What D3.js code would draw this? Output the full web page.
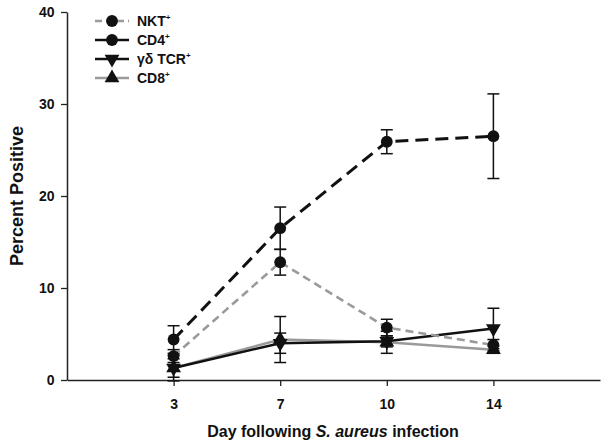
<!DOCTYPE html>
<html>
<head>
<meta charset="utf-8">
<script src="https://cdn.jsdelivr.net/npm/d3@7"></script>
<style>
  body { margin: 0; background: #fff; }
  text { font-family: "Liberation Sans", Arial, sans-serif; font-weight: bold; }
</style>
</head>
<body>
<div id="chart"><svg width="601" height="448"></svg></div>
<script>
// days on the x axis (categorical, evenly spaced)
const days = ["3", "7", "10", "14"];
const yTicks = [0, 10, 20, 30, 40];

// black long dashed, circles
const dashBlackVals = [4.4, 16.5, 25.9, 26.5];
const dashBlackErr = [1.5, 2.3, 1.3, 4.6];
// grey dashed, circles
const dashGreyVals = [2.6, 12.8, 5.7, 3.8];
const dashGreyErr = [0.7, 1.4, 0.9, 0.6];
// black solid, down triangles
const solidBlackVals = [1.3, 4.0, 4.2, 5.6];
const solidBlackErr = [1.0, 1.1, 0.6, 2.2];
// grey solid, up triangles
const solidGreyVals = [1.3, 4.4, 4.1, 3.3];
const solidGreyErr = [1.4, 2.5, 1.2, 0.4];

const legendLabels = ["NKT", "CD4", "γδ TCR", "CD8"];

const svg = d3.select("#chart svg");
const margin = { left: 67, right: 1, top: 12, bottom: 68 };
const W = 601, H = 448;

// index scale: one empty slot before and after the days
const x = d3.scaleLinear().domain([0, days.length + 1]).range([margin.left, W - margin.right]);
const y = d3.scaleLinear().domain([0, 40]).range([H - margin.bottom, margin.top]);

const grey = "#9a9a9a";

// axes
const gx = svg.append("g")
  .attr("transform", "translate(0," + y(0) + ")")
  .call(d3.axisBottom(x)
    .tickValues(days.map((d, i) => i + 1))
    .tickFormat((d) => days[d - 1])
    .tickSize(6)
    .tickSizeOuter(0));
gx.select(".domain").attr("stroke", "#222").attr("stroke-width", 1.5);
gx.selectAll(".tick line").attr("stroke", "#222").attr("stroke-width", 1.3);
gx.selectAll(".tick text").attr("font-size", 14).attr("fill", "#111").attr("dy", "1.45em");

const gy = svg.append("g")
  .attr("transform", "translate(" + margin.left + ",0)")
  .call(d3.axisLeft(y).tickValues(yTicks).tickSize(6).tickSizeOuter(0));
gy.select(".domain").attr("stroke", "#222").attr("stroke-width", 1.5);
gy.selectAll(".tick line").attr("stroke", "#222").attr("stroke-width", 1.3);
gy.selectAll(".tick text").attr("font-size", 14).attr("fill", "#111").attr("dx", "-0.25em");

// axis titles
svg.append("text")
  .attr("transform", "translate(23," + (y(20)) + ") rotate(-90)")
  .attr("text-anchor", "middle")
  .attr("font-size", 18)
  .attr("fill", "#111")
  .text("Percent Positive");

const xt = svg.append("text")
  .attr("x", 333).attr("y", 437)
  .attr("text-anchor", "middle")
  .attr("font-size", 16)
  .attr("fill", "#111");
xt.append("tspan").text("Day following ");
xt.append("tspan").attr("font-style", "italic").text("S. aureus");
xt.append("tspan").text(" infection");

const series = [
  { vals: solidGreyVals, err: solidGreyErr, color: grey, dash: null, width: 2.5, marker: "up" },
  { vals: solidBlackVals, err: solidBlackErr, color: "#111", dash: null, width: 2.5, marker: "down" },
  { vals: dashGreyVals, err: dashGreyErr, color: grey, dash: "8,5", width: 2.6, marker: "circle" },
  { vals: dashBlackVals, err: dashBlackErr, color: "#111", dash: "13,7", width: 3, marker: "circle" }
];

const line = d3.line().x((d, i) => x(i + 1)).y((d) => y(d));

const symbolFor = (m) => {
  if (m === "circle") return d3.symbol().type(d3.symbolCircle).size(110)();
  // down triangle uses the same path, rotated where it is placed
  return d3.symbol().type(d3.symbolTriangle).size(95)();
};

// error bars
series.forEach((s) => {
  const g = svg.append("g");
  s.vals.forEach((v, i) => {
    const cx = x(i + 1);
    const top = y(v + s.err[i]), bot = y(v - s.err[i]);
    g.append("line").attr("x1", cx).attr("x2", cx).attr("y1", top).attr("y2", bot)
      .attr("stroke", "#111").attr("stroke-width", 1.5);
    [top, bot].forEach((yy) => {
      g.append("line").attr("x1", cx - 6).attr("x2", cx + 6).attr("y1", yy).attr("y2", yy)
        .attr("stroke", "#111").attr("stroke-width", 1.5);
    });
  });
});

// lines
series.forEach((s) => {
  svg.append("path")
    .datum(s.vals)
    .attr("d", line)
    .attr("fill", "none")
    .attr("stroke", s.color)
    .attr("stroke-width", s.width)
    .attr("stroke-dasharray", s.dash);
});

// markers (all black)
series.forEach((s) => {
  svg.append("g").selectAll("path")
    .data(s.vals)
    .join("path")
    .attr("d", symbolFor(s.marker))
    .attr("transform", (d, i) => "translate(" + x(i + 1) + "," + y(d) + ")" + (s.marker === "down" ? " rotate(180)" : ""))
    .attr("fill", "#111");
});

// legend (as drawn in the original figure)
const legendStyles = [
  { color: grey, dash: "8,5", marker: "circle" },
  { color: "#111", dash: null, marker: "circle" },
  { color: "#111", dash: null, marker: "down" },
  { color: grey, dash: null, marker: "up" }
];
const lg = svg.append("g");
legendLabels.forEach((lab, i) => {
  const st = legendStyles[i];
  const yy = 21 + i * 19;
  lg.append("line")
    .attr("x1", 95).attr("x2", 129).attr("y1", yy).attr("y2", yy)
    .attr("stroke", st.color).attr("stroke-width", 2.5)
    .attr("stroke-dasharray", st.dash ? "7,4" : null);
  lg.append("path")
    .attr("d", symbolFor(st.marker))
    .attr("transform", "translate(112," + yy + ")" + (st.marker === "down" ? " rotate(180)" : ""))
    .attr("fill", "#111");
  const t = lg.append("text")
    .attr("x", 137).attr("y", yy + 5)
    .attr("font-size", 14)
    .attr("fill", "#111");
  t.append("tspan").text(lab);
  t.append("tspan").attr("font-size", 8).attr("dy", -6).text("+");
});
</script>
</body>
</html>
